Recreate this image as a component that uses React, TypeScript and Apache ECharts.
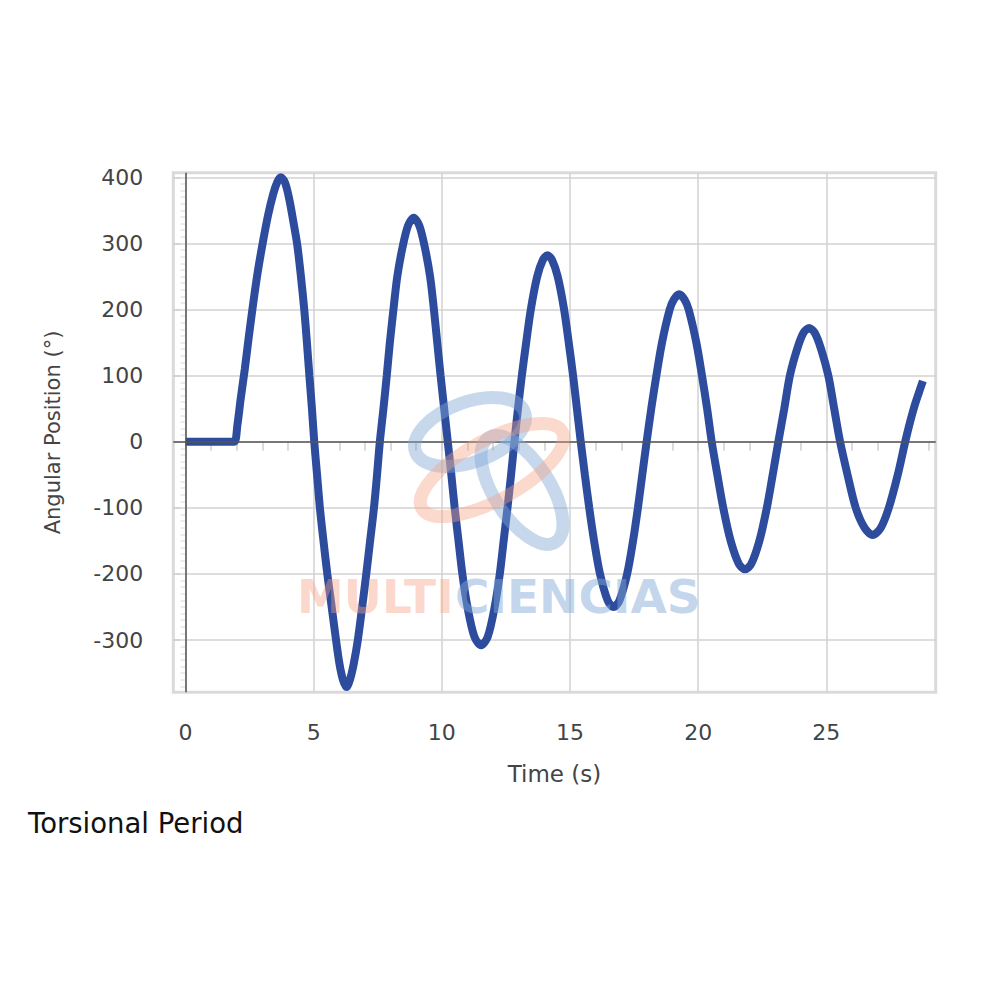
import React, { useEffect, useRef } from "react";
import * as echarts from "echarts";

// Time (s)
const times = [
  0, 0.4, 0.8, 1.2, 1.6, 1.9,
  2.02, 2.15, 2.31, 2.47, 2.64, 2.82, 3.02, 3.22, 3.42, 3.58, 3.71,
  3.88, 4.05, 4.2, 4.36, 4.5, 4.63, 4.73, 4.83, 4.93, 5.02, 5.13, 5.24, 5.38, 5.53, 5.7, 5.87, 6.0, 6.14, 6.28,
  6.42, 6.56, 6.72, 6.89, 7.05, 7.2, 7.35, 7.47, 7.58,
  7.72, 7.85, 7.97, 8.11, 8.26, 8.47, 8.68, 8.9, 9.12, 9.33, 9.54, 9.69, 9.82, 9.95, 10.09, 10.23,
  10.37, 10.5, 10.65, 10.8, 11.0, 11.27, 11.53, 11.79, 12.06, 12.26, 12.41, 12.56, 12.7, 12.83,
  12.97, 13.12, 13.29, 13.47, 13.72, 13.94, 14.12, 14.3, 14.52, 14.77, 14.95, 15.12, 15.27, 15.42,
  15.58, 15.75, 15.94, 16.17, 16.47, 16.7, 16.93, 17.23, 17.46, 17.65, 17.82, 17.99,
  18.17, 18.37, 18.59, 18.89, 19.05, 19.26, 19.47, 19.63, 19.93, 20.15, 20.35, 20.53,
  20.75, 20.98, 21.27, 21.59, 21.83, 22.07, 22.39, 22.68, 22.91, 23.13,
  23.36, 23.58, 23.86, 24.11, 24.33, 24.55, 24.8, 25.08, 25.31, 25.54,
  25.83, 26.15, 26.49, 26.81, 27.13, 27.44, 27.79, 28.08, 28.27, 28.45, 28.62, 28.77,
];

// Angular Position (°)
const angles = [
  0, 0, 0, 0, 0, 0,
  25, 65, 110, 160, 210, 258, 303, 343, 375, 393, 400,
  392, 366, 334, 297, 250, 200, 152, 100, 50, 0, -50, -100, -150, -200, -250, -300, -335, -360, -371,
  -359, -336, -300, -250, -200, -150, -100, -50, 0,
  50, 100, 150, 200, 250, 295, 327, 339, 327, 295, 250, 200, 150, 100, 50, 0,
  -50, -100, -150, -200, -250, -295, -308, -295, -250, -200, -150, -100, -50, 0,
  50, 100, 150, 200, 250, 275, 282, 275, 250, 200, 150, 100, 50, 0,
  -50, -100, -150, -200, -240, -250, -240, -200, -150, -100, -50, 0,
  50, 100, 150, 200, 215, 223, 215, 200, 150, 100, 50, 0,
  -50, -100, -150, -185, -193, -185, -150, -100, -50, 0,
  50, 100, 140, 165, 172, 165, 140, 100, 50, 0,
  -50, -100, -130, -141, -130, -100, -50, 0, 30, 55, 75, 92,
];

const xLabelValues = [0, 5, 10, 15, 20, 25];
const xTickValues = [0, 1, 2, 3, 4, 5, 6, 7, 8, 9, 10, 11, 12, 13, 14, 15, 16, 17, 18, 19, 20, 21, 22, 23, 24, 25, 26, 27, 28, 29];
const yLabelValues = [-300, -200, -100, 0, 100, 200, 300, 400];
const yMinorTickValues = Array.from({ length: 78 }, (_, i) => -370 + i * 10);

const X_MIN = -0.48;
const X_MAX = 29.27;
const Y_MIN = -379;
const Y_MAX = 407;

const FONT = "DejaVu Sans";
const LABEL_COLOR = "#444";

export default function App() {
  const ref = useRef<HTMLDivElement>(null);

  useEffect(() => {
    if (!ref.current) return;
    const chart = echarts.init(ref.current, undefined, { renderer: "svg" });
    const data = times.map((t, i) => [t, angles[i]]);
    const gridColor = "#d2d2d2";

    chart.setOption({
      animation: false,
      backgroundColor: "#ffffff",
      grid: {
        left: 173.3,
        right: 64.3,
        top: 172.7,
        bottom: 307.7,
        show: true,
        borderColor: "#dadada",
        borderWidth: 3,
        backgroundColor: "transparent",
      },
      xAxis: [
        {
          type: "value",
          min: X_MIN,
          max: X_MAX,
          offset: 6,
          axisLine: { show: false },
          axisTick: { show: false, customValues: xLabelValues },
          axisLabel: {
            customValues: xLabelValues,
            fontSize: 22,
            fontFamily: FONT,
            color: LABEL_COLOR,
            margin: 23,
          },
          splitLine: { show: true, lineStyle: { color: gridColor, width: 1.5 } },
          name: "Time (s)",
          nameLocation: "middle",
          nameGap: 64,
          nameTextStyle: { fontSize: 23, fontFamily: FONT, color: LABEL_COLOR },
        },
        {
          type: "value",
          min: X_MIN,
          max: X_MAX,
          position: "bottom",
          offset: 6,
          axisLine: { show: false },
          axisLabel: { show: false },
          splitLine: { show: false },
          axisTick: {
            show: true,
            customValues: xTickValues,
            length: 9,
            lineStyle: { color: "#cfcfcf", width: 1.5 },
          },
        },
      ],
      yAxis: [
        {
          type: "value",
          min: Y_MIN,
          max: Y_MAX,
          axisLine: { show: false },
          axisTick: {
            show: true,
            customValues: yLabelValues,
            length: 12,
            lineStyle: { color: "#d0d0d0", width: 1.5 },
          },
          axisLabel: {
            customValues: yLabelValues,
            fontSize: 22,
            fontFamily: FONT,
            color: LABEL_COLOR,
            margin: 30,
          },
          splitLine: { show: true, lineStyle: { color: gridColor, width: 1.5 } },
          name: "Angular Position (°)",
          nameLocation: "middle",
          nameGap: 110,
          nameTextStyle: { fontSize: 21, fontFamily: FONT, color: LABEL_COLOR },
        },
        {
          type: "value",
          min: Y_MIN,
          max: Y_MAX,
          position: "left",
          offset: 6,
          axisLine: { show: false },
          axisLabel: { show: false },
          splitLine: { show: false },
          axisTick: {
            show: true,
            customValues: yMinorTickValues,
            length: 5,
            lineStyle: { color: "#e4e4e4", width: 1.5 },
          },
        },
      ],
      series: [
        {
          type: "line",
          data: [[0, 0]],
          showSymbol: false,
          lineStyle: { width: 0 },
          z: 1,
          silent: true,
          markLine: {
            silent: true,
            symbol: ["none", "none"],
            label: { show: false },
            lineStyle: { color: "#555", width: 1.5, type: "solid" },
            data: [{ xAxis: 0 }, { yAxis: 0 }],
          },
        },
        {
          type: "line",
          data,
          smooth: 0.3,
          showSymbol: false,
          z: 3,
          lineStyle: { color: "#2d4c9d", width: 8 },
        },
      ],
      graphic: [
        {
          type: "ellipse",
          x: 470,
          y: 432,
          rotation: 0.35,
          shape: { cx: 0, cy: 0, rx: 58, ry: 30 },
          style: { fill: "none", stroke: "rgba(130,168,215,0.45)", lineWidth: 13 },
          z: 10,
          silent: true,
        },
        {
          type: "ellipse",
          x: 522,
          y: 490,
          rotation: -1.0,
          shape: { cx: 0, cy: 0, rx: 62, ry: 28 },
          style: { fill: "none", stroke: "rgba(130,168,215,0.45)", lineWidth: 13 },
          z: 10,
          silent: true,
        },
        {
          type: "ellipse",
          x: 492,
          y: 470,
          rotation: 0.5,
          shape: { cx: 0, cy: 0, rx: 80, ry: 30 },
          style: { fill: "none", stroke: "rgba(248,160,130,0.4)", lineWidth: 13 },
          z: 10,
          silent: true,
        },
        {
          type: "text",
          x: 297,
          y: 596,
          z: 10,
          silent: true,
          style: {
            text: "MULTI",
            font: `bold 47px '${FONT}'`,
            fill: "rgba(248,160,130,0.42)",
            verticalAlign: "middle",
            align: "left",
          },
        },
        {
          type: "text",
          x: 455,
          y: 596,
          z: 10,
          silent: true,
          style: {
            text: "CIENCIAS",
            font: `bold 47px '${FONT}'`,
            fill: "rgba(130,168,215,0.48)",
            verticalAlign: "middle",
            align: "left",
          },
        },
        {
          type: "text",
          x: 28,
          y: 823,
          silent: true,
          style: {
            text: "Torsional Period",
            font: `27.5px '${FONT}'`,
            fill: "#111",
            verticalAlign: "middle",
            align: "left",
          },
        },
      ],
    });

    return () => chart.dispose();
  }, []);

  return (
    <div
      ref={ref}
      style={{ position: "absolute", left: 0, top: 0, width: 1000, height: 1000, background: "#fff" }}
    />
  );
}
